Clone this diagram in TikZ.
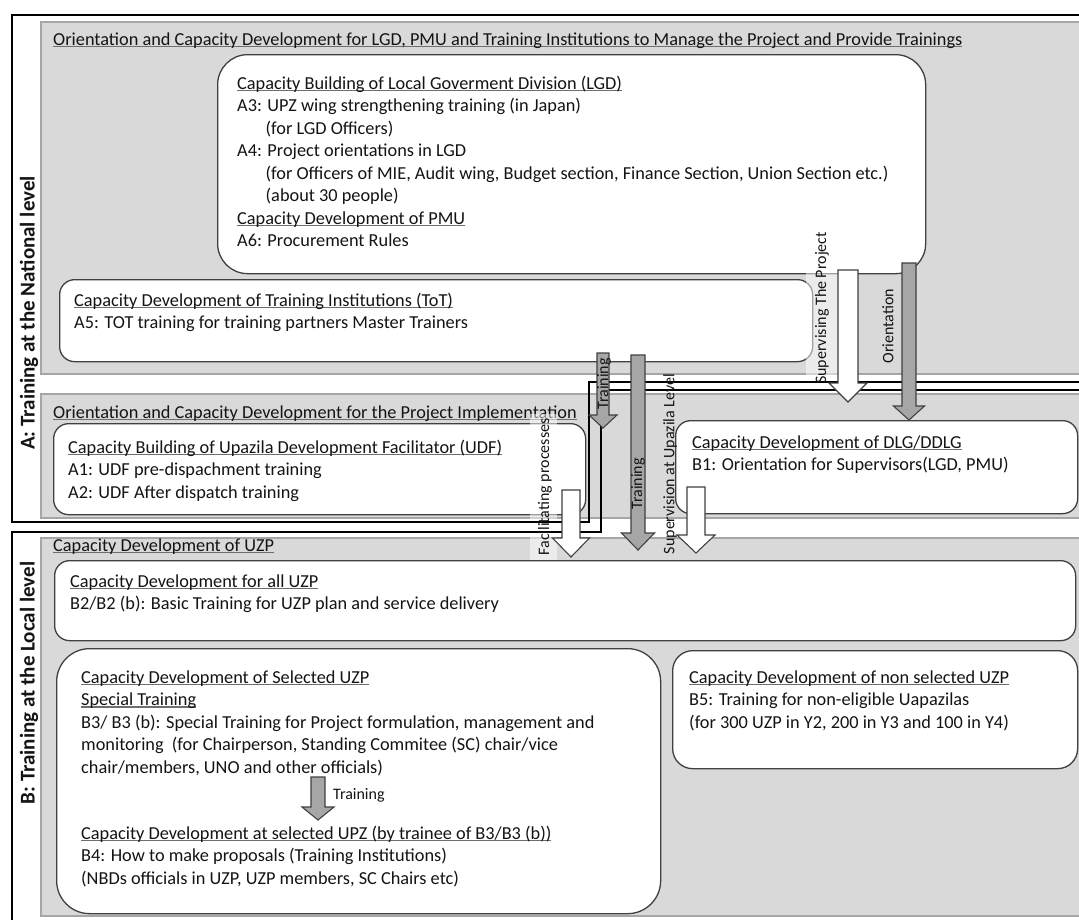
\documentclass[tikz,border=0pt]{standalone}
\usepackage{fontspec}
\setmainfont{Carlito}
\usetikzlibrary{calc}
\definecolor{regionfill}{HTML}{D9D9D9}
\definecolor{regionedge}{HTML}{A6A6A6}
\definecolor{boxedge}{HTML}{404040}
\definecolor{txtc}{HTML}{141414}
\definecolor{ulc}{HTML}{6E6E6E}
\definecolor{arrowgrey}{HTML}{A6A6A6}

% underlined heading
\newcommand\hdul[1]{\leavevmode\setbox0=\hbox{#1}\rlap{\color{ulc}\rule[-2pt]{\wd0}{1.2pt}}\box0}
% block of text lines, baseline at the first line
\newcommand\textlines[1]{\begin{minipage}[t]{1000pt}\fontsize{18.3}{22.5}\selectfont\leavevmode#1\end{minipage}}
% block arrow pointing from #2 to #3: #4 shaft half width, #5 head half width, #6 head length
\newcommand\blockarrow[6]{%
  \draw[#1] let \p1=(#2), \p2=(#3) in
    (\x1-#4pt,\y1) -- (\x1+#4pt,\y1) -- (\x1+#4pt,\y2+#6pt) -- (\x1+#5pt,\y2+#6pt)
    -- (\x2,\y2) -- (\x1-#5pt,\y2+#6pt) -- (\x1-#4pt,\y2+#6pt) -- cycle;}

\begin{document}
\begin{tikzpicture}[x=1pt,y=-1pt,
  region/.style={fill=regionfill,draw=regionedge,line width=1.2pt},
  card/.style={fill=white,draw=boxedge,line width=1.3pt,anchor=north west,inner sep=0pt},
  frame/.style={draw=black,line width=2.8pt},
  tx/.style={anchor=base west,inner sep=0pt,font=\fontsize{18.3}{22.5}\selectfont,text=txtc},
  lbl/.style={inner sep=0pt,font=\fontsize{16}{19}\selectfont,text=txtc,rotate=90},
  band/.style={inner sep=0pt,font=\fontsize{21}{25}\selectfont\bfseries,text=txtc,rotate=90},
  whitearrow/.style={fill=white,draw=boxedge,line width=1.1pt},
  greyarrow/.style={fill=arrowgrey,draw=boxedge,line width=1.1pt},
  lblbg/.style={fill=white,fill opacity=0.5,draw=none,rotate=90,inner sep=0pt}
]
\useasboundingbox (0,0) rectangle (1079,919);
\clip (0,0) rectangle (1079,919);
\fill[white] (0,0) rectangle (1079,919);

% shaded regions
\draw[region] (41,22) rectangle (1095,374);
\draw[region] (41,394) rectangle (1095,518);
\draw[region] (41,538) rectangle (1095,916);

% region headings
\node[tx] (natTitle) at (53,45) {\hdul{Orientation and Capacity Development for LGD, PMU and Training Institutions to Manage the Project and Provide Trainings}};
\node[tx] (implTitle) at (53,418) {\hdul{Orientation and Capacity Development for the Project Implementation}};
\node[tx] (uzpTitle) at (53,551) {\hdul{Capacity Development of UZP}};

% boxes
\node[card,rounded corners=30pt,minimum width=708pt,minimum height=219pt] (lgd) at (217,54) {};
\node[card,rounded corners=15pt,minimum width=753pt,minimum height=82pt] (tot) at (59,279) {};
\node[card,rounded corners=15pt,minimum width=532pt,minimum height=91pt] (udf) at (53,423) {};
\node[card,rounded corners=15pt,minimum width=402pt,minimum height=93pt] (dlg) at (675,420) {};
\node[card,rounded corners=15pt,minimum width=1021pt,minimum height=80pt] (alluzp) at (54,560) {};
\node[card,rounded corners=33pt,minimum width=604pt,minimum height=265pt] (seluzp) at (56,648) {};
\node[card,rounded corners=20pt,minimum width=405pt,minimum height=118pt] (nonsel) at (672,650) {};

% box texts
\node[tx] (lgdText) at (237,89) {\textlines{\hdul{Capacity Building of Local Goverment Division (LGD)}\\
A3: UPZ wing strengthening training (in Japan)\\
\hspace*{28.5pt}(for LGD Officers)\\
A4: Project orientations in LGD\\
\hspace*{28.5pt}(for Officers of MIE, Audit wing, Budget section, Finance Section, Union Section etc.)\\
\hspace*{28.5pt}(about 30 people)\\
\hdul{Capacity Development of PMU}\\
A6: Procurement Rules}};
\node[tx] (totText) at (74,306) {\textlines{\hdul{Capacity Development of Training Institutions (ToT)}\\
A5: TOT training for training partners Master Trainers}};
\node[tx] (udfText) at (68,453) {\textlines{\hdul{Capacity Building of Upazila Development Facilitator (UDF)}\\
A1: UDF pre-dispachment training\\
A2: UDF After dispatch training}};
\node[tx] (dlgText) at (692,448) {\textlines{\hdul{Capacity Development of DLG/DDLG}\\
B1: Orientation for Supervisors(LGD, PMU)}};
\node[tx] (allText) at (70,587) {\textlines{\hdul{Capacity Development for all UZP}\\
B2/B2 (b): Basic Training for UZP plan and service delivery}};
\node[tx] (selText) at (81,683) {\textlines{\hdul{Capacity Development of Selected UZP}\\
\hdul{Special Training}\\
B3/ B3 (b): Special Training for Project formulation, management and\\
monitoring\ \ (for Chairperson, Standing Commitee (SC) chair/vice\\
chair/members, UNO and other officials)}};
\node[tx] (selText2) at (81,839) {\textlines{\hdul{Capacity Development at selected UPZ (by trainee of B3/B3 (b))}\\
B4: How to make proposals (Training Institutions)\\
(NBDs officials in UZP, UZP members, SC Chairs etc)}};
\node[tx] (nonText) at (689,683) {\textlines{\hdul{Capacity Development of non selected UZP}\\
B5: Training for non-eligible Uapazilas\\
(for 300 UZP in Y2, 200 in Y3 and 100 in Y4)}};

% side bands
\node[band] (bandA) at (29,313) {A: Training at the National level};
\node[band] (bandB) at (29,683) {B: Training at the Local level};

% light backing of two arrow labels
\node[lblbg,minimum width=162pt,minimum height=32pt] (supBg) at (822,310) {};
\node[lblbg,minimum width=146pt,minimum height=27pt] (facBg) at (543,487) {};

% level frames
\draw[frame] (1095,15) -- (12,15) -- (12,522) -- (589,522) -- (589,382) -- (1095,382);
\draw[frame] (1095,390) -- (601,390) -- (601,532) -- (12,532) -- (12,930);

% arrow end points
\coordinate (supTop) at (848,270);   \coordinate (supTip) at (848,402);
\coordinate (oriTop) at (909,263);   \coordinate (oriTip) at (909,420);
\coordinate (trsTop) at (603,353);   \coordinate (trsTip) at (603,428);
\coordinate (trlTop) at (638,355);   \coordinate (trlTip) at (638,550);
\coordinate (facTop) at (571,490);   \coordinate (facTip) at (571,557);
\coordinate (upzTop) at (696,487);   \coordinate (upzTip) at (696,553);
\coordinate (b3Top) at (318,777);    \coordinate (b3Tip) at (318,820);

\blockarrow{whitearrow}{supTop}{supTip}{10}{19}{19}
\blockarrow{greyarrow}{oriTop}{oriTip}{7}{15.5}{14}
\blockarrow{greyarrow}{trsTop}{trsTip}{6}{14}{13}
\blockarrow{greyarrow}{trlTop}{trlTip}{7}{16.5}{17}
\blockarrow{whitearrow}{facTop}{facTip}{9}{18.5}{19}
\blockarrow{whitearrow}{upzTop}{upzTip}{9}{19}{18}
\blockarrow{greyarrow}{b3Top}{b3Tip}{7}{16}{13}

% arrow labels
\node[lbl] (supLbl) at (822,308) {Supervising The Project};
\node[lbl] (oriLbl) at (888,326) {Orientation};
\node[lbl] (trsLbl) at (604,384) {Training};
\node[lbl] (trlLbl) at (638,484) {Training};
\node[lbl] (facLbl) at (545,487) {Facilitating processes};
\node[lbl] (upzLbl) at (670,464) {Supervision at Upazila Level};
\node[anchor=west,inner sep=0pt,font=\fontsize{16}{19}\selectfont,text=txtc] (b3Lbl) at (333,795) {Training};
\end{tikzpicture}
\end{document}
